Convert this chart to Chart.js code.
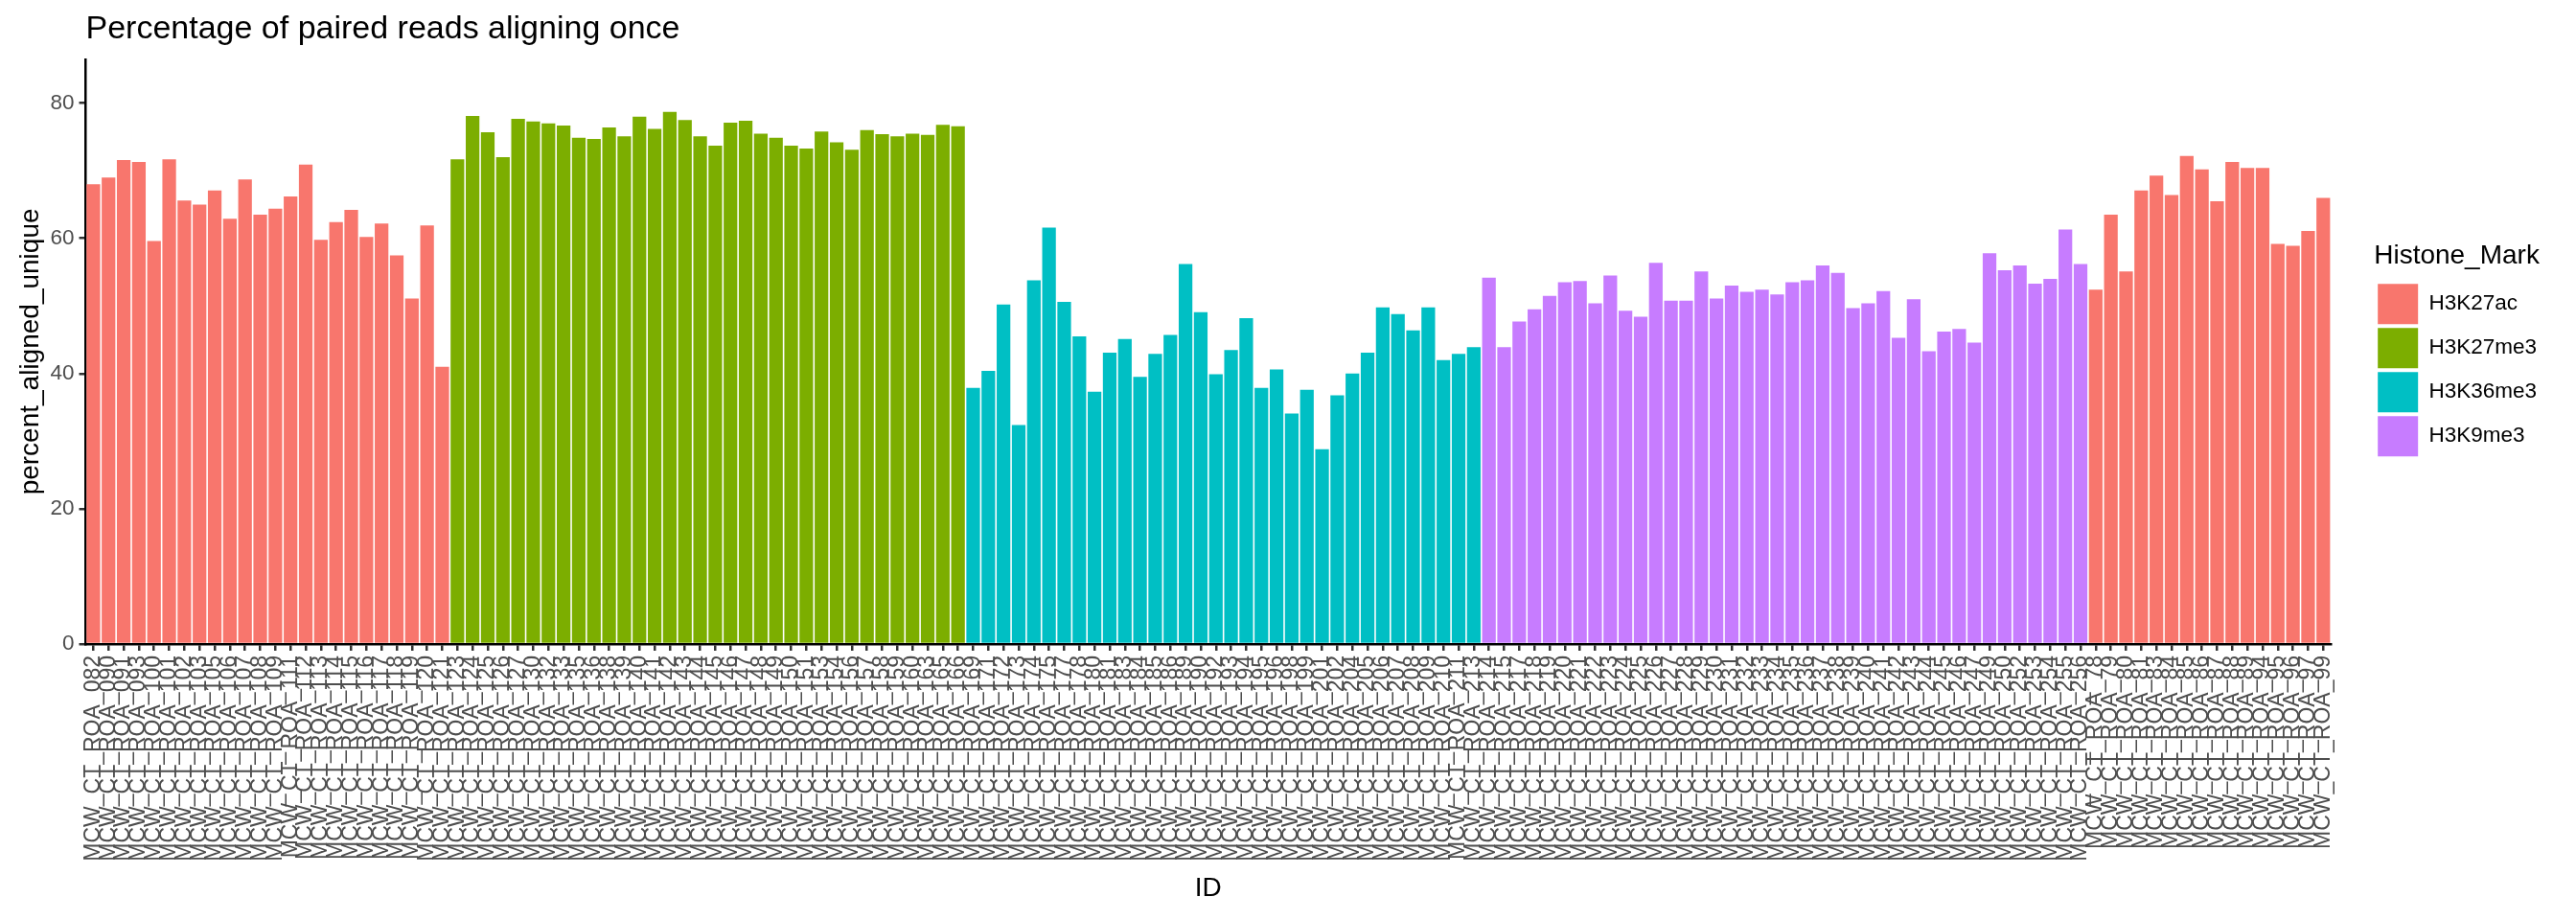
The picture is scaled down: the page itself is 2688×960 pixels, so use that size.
<!DOCTYPE html>
<html>
<head>
<meta charset="utf-8">
<title>Percentage of paired reads aligning once</title>
<script src="https://cdn.jsdelivr.net/npm/chart.js@4.4.1/dist/chart.umd.min.js"></script>
<style>
  html, body { margin: 0; padding: 0; background: #ffffff; }
  canvas { display: block; }
</style>
</head>
<body>
<canvas id="readsChart" width="2688" height="960"></canvas>
<script>
// Sample IDs per block (order as on the x axis)
const idsAc1 = ['082', '090', '091', '093', '100', '101', '102', '103', '105', '106', '107', '108',
  '109', '111', '112', '113', '114', '115', '116', '117', '118', '119', '120', '121'];
const idsMe27 = ['123', '124', '125', '126', '127', '130', '132', '133', '135', '136', '138', '139',
  '140', '141', '142', '143', '144', '145', '146', '147', '148', '149', '150', '151', '153', '154',
  '156', '157', '158', '159', '160', '163', '165', '166'];
const idsMe36 = ['169', '171', '172', '173', '174', '175', '177', '178', '180', '181', '183', '184',
  '185', '186', '189', '190', '192', '193', '194', '195', '196', '198', '199', '201', '202', '204',
  '205', '206', '207', '208', '209', '210', '211', '213'];
const idsMe9 = ['214', '215', '217', '218', '219', '220', '221', '222', '223', '224', '225', '226',
  '227', '228', '229', '230', '231', '232', '233', '234', '235', '236', '237', '238', '239', '240',
  '241', '242', '243', '244', '245', '246', '247', '249', '250', '252', '253', '254', '255', '256'];
const idsAc2 = ['78', '79', '80', '81', '83', '84', '85', '86', '87', '88', '89', '94', '95', '96', '97', '99'];

// percent_aligned_unique per block
const valsAc1 = [68.0, 69.0, 71.6, 71.3, 59.6, 71.7, 65.6, 65.0, 67.1, 62.9, 68.7, 63.5,
  64.4, 66.2, 70.9, 59.8, 62.4, 64.2, 60.2, 62.2, 57.5, 51.1, 61.9, 41.0];
const valsMe27 = [71.7, 78.1, 75.7, 72.0, 77.7, 77.3, 77.0, 76.7, 74.9, 74.7, 76.4, 75.1,
  78.0, 76.2, 78.7, 77.5, 75.1, 73.7, 77.1, 77.4, 75.5, 74.9, 73.7, 73.3, 75.8, 74.2,
  73.1, 76.0, 75.4, 75.1, 75.5, 75.3, 76.8, 76.6];
const valsMe36 = [37.9, 40.4, 50.2, 32.4, 53.8, 61.6, 50.6, 45.5, 37.3, 43.1, 45.1, 39.5,
  42.9, 45.7, 56.2, 49.1, 39.9, 43.5, 48.2, 37.9, 40.6, 34.1, 37.6, 28.8, 36.8, 40.0,
  43.1, 49.8, 48.8, 46.4, 49.8, 42.0, 42.9, 43.9];
const valsMe9 = [54.2, 43.9, 47.7, 49.5, 51.5, 53.5, 53.7, 50.4, 54.5, 49.3, 48.4, 56.4,
  50.8, 50.8, 55.1, 51.1, 53.0, 52.1, 52.4, 51.7, 53.5, 53.8, 56.0, 54.9, 49.7, 50.4,
  52.2, 45.3, 51.0, 43.3, 46.2, 46.6, 44.6, 57.8, 55.3, 56.0, 53.3, 54.0, 61.3, 56.2];
const valsAc2 = [52.4, 63.5, 55.1, 67.1, 69.3, 66.4, 72.2, 70.2, 65.5, 71.3, 70.4, 70.4,
  59.2, 58.9, 61.1, 66.0];

const marks = ['H3K27ac', 'H3K27me3', 'H3K36me3', 'H3K9me3'];
const markColors = ['#F8766D', '#7CAE00', '#00BFC4', '#C77CFF'];
const yTicks = [0, 20, 40, 60, 80];

// blocks in x order: [ids, values, mark index]
const blocks = [
  [idsAc1, valsAc1, 0],
  [idsMe27, valsMe27, 1],
  [idsMe36, valsMe36, 2],
  [idsMe9, valsMe9, 3],
  [idsAc2, valsAc2, 0]
];

// build labels and one dataset per histone mark (nulls elsewhere)
const labels = [];
const seriesByMark = marks.map(() => []);
blocks.forEach(([ids, vals, m]) => {
  ids.forEach((id, i) => {
    labels.push('MCW_CT_ROA_' + id);
    seriesByMark.forEach((s, k) => s.push(k === m ? vals[i] : null));
  });
});

const FONT = "'Liberation Sans', Arial, sans-serif";
Chart.defaults.font.family = FONT;

const ctx = document.getElementById('readsChart').getContext('2d');
new Chart(ctx, {
  type: 'bar',
  data: {
    labels: labels,
    datasets: marks.map((m, k) => ({
      label: m,
      data: seriesByMark[k],
      backgroundColor: markColors[k],
      borderWidth: 0,
      grouped: false,
      barPercentage: 0.9,
      categoryPercentage: 1.0
    }))
  },
  options: {
    responsive: false,
    animation: false,
    layout: { padding: { left: 0, right: 31, top: 0, bottom: 0 } },
    plugins: {
      title: {
        display: true,
        text: 'Percentage of paired reads aligning once',
        align: 'start',
        fullSize: false,
        color: '#000000',
        font: { size: 34, weight: 'normal' },
        padding: { top: 10, bottom: 11 }
      },
      legend: {
        display: true,
        position: 'right',
        align: 'center',
        fullSize: false,
        title: {
          display: true,
          text: 'Histone_Mark',
          position: 'start',
          color: '#000000',
          font: { size: 28 },
          padding: { top: 0, bottom: 5 }
        },
        labels: {
          boxWidth: 42,
          boxHeight: 42,
          padding: 4,
          color: '#000000',
          font: { size: 22.5 }
        }
      },
      tooltip: { enabled: false }
    },
    scales: {
      x: {
        z: 1,
        offset: true,
        grid: { drawOnChartArea: false, offset: false, tickLength: 7, color: '#333333', lineWidth: 2.5 },
        border: { display: true, color: '#000000', width: 2.5 },
        ticks: {
          autoSkip: false,
          minRotation: 90,
          maxRotation: 90,
          padding: 5,
          color: '#4D4D4D',
          font: { size: 23 }
        },
        title: {
          display: true,
          text: 'ID',
          color: '#000000',
          font: { size: 28 },
          padding: { top: 0, bottom: 16 }
        },
        afterFit: (s) => { s.height = 288; }
      },
      y: {
        z: 1,
        min: 0,
        max: 86.5,
        grid: { drawOnChartArea: false, tickLength: 7, color: '#333333', lineWidth: 2.5 },
        border: { display: true, color: '#000000', width: 2.5 },
        ticks: {
          stepSize: 20,
          includeBounds: false,
          padding: 5,
          color: '#4D4D4D',
          font: { size: 22.5 }
        },
        afterBuildTicks: (s) => { s.ticks = yTicks.map(v => ({ value: v })); },
        title: {
          display: true,
          text: 'percent_aligned_unique',
          color: '#000000',
          font: { size: 28 },
          padding: { top: 15, bottom: 0 }
        },
        afterFit: (s) => { s.width = 89.5; }
      },
      // empty spacer between the panel and the legend
      gap: {
        position: 'right',
        display: true,
        grid: { display: false, drawTicks: false },
        border: { display: false },
        ticks: { display: false },
        afterFit: (s) => { s.width = 45; }
      }
    }
  }
});
</script>
</body>
</html>
